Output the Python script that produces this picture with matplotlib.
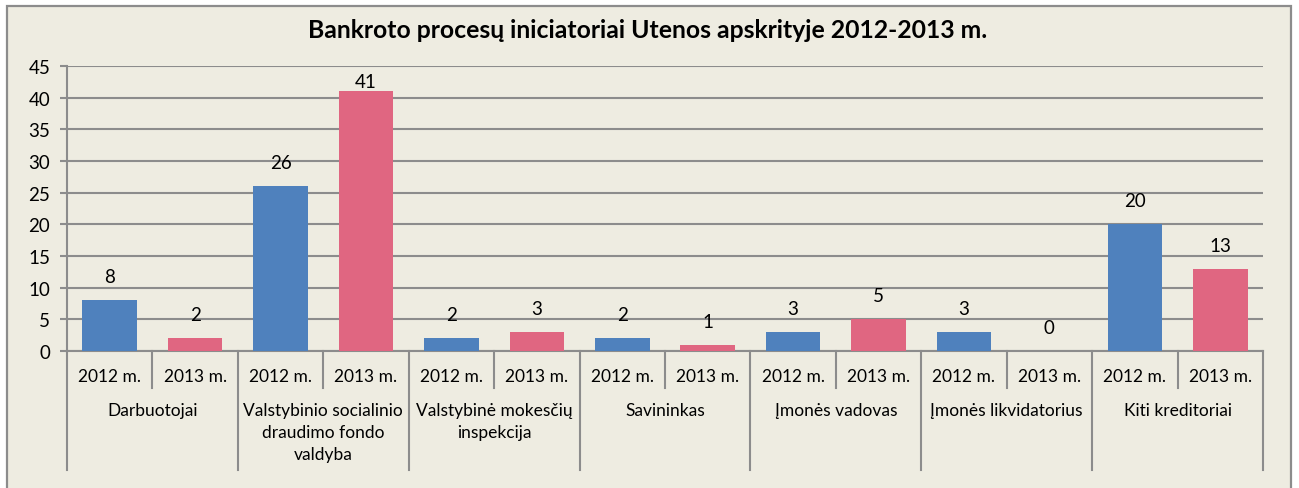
import matplotlib.pyplot as plt
from matplotlib.patches import Rectangle

# ================== DATA ==================
groups = [
    "Darbuotojai",
    "Valstybinio socialinio\ndraudimo fondo\nvaldyba",
    "Valstybinė mokesčių\ninspekcija",
    "Savininkas",
    "Įmonės vadovas",
    "Įmonės likvidatorius",
    "Kiti kreditoriai",
]
years = ["2012 m.", "2013 m."]
vals_2012 = [8, 26, 2, 2, 3, 3, 20]
vals_2013 = [2, 41, 3, 1, 5, 0, 13]

TITLE = "Bankroto procesų iniciatoriai Utenos apskrityje 2012-2013 m."

BG = "#EEECE1"
BLUE = "#4F81BD"
PINK = "#E06681"
GRID = "#8C8C8C"

plt.rcParams['font.family'] = ['Lato', 'DejaVu Sans']

W, H = 1299, 489
fig = plt.figure(figsize=(W / 100, H / 100), dpi=100)
fig.patch.set_facecolor("white")

# chart frame
fig.patches.append(Rectangle((7 / W, -0.02), (1291 - 7) / W, 1 - 7 / H + 0.02,
                             transform=fig.transFigure, facecolor=BG,
                             edgecolor=GRID, linewidth=1.6, zorder=-5))

left, right, top, bottom = 67, 1263, 67, 352
ax = fig.add_axes([left / W, (H - bottom) / H, (right - left) / W, (bottom - top) / H])
ax.set_facecolor("none")

# ================== BARS ==================
xs, vs, cs = [], [], []
for i in range(len(groups)):
    xs += [2 * i, 2 * i + 1]
    vs += [vals_2012[i], vals_2013[i]]
    cs += [BLUE, PINK]

ax.bar(xs, vs, width=0.64, color=cs, zorder=3)
for x, v in zip(xs, vs):
    ax.text(x, min(v + 3.7, 42.5), str(v), ha="center", va="center",
            fontsize=13.5, color="black", zorder=4)

ax.set_xlim(-0.5, len(xs) - 0.5)
ax.set_ylim(0, 45)
ax.set_yticks(range(0, 46, 5))
ax.yaxis.grid(True, color=GRID, linewidth=1.5, zorder=1)
ax.set_axisbelow(True)
ax.tick_params(axis="y", length=5, width=1.5, color=GRID, labelsize=13.5, pad=7)
ax.set_xticks([])
for s in ["top", "right"]:
    ax.spines[s].set_visible(False)
for s in ["left", "bottom"]:
    ax.spines[s].set_color(GRID)
    ax.spines[s].set_linewidth(1.5)

# ================== MULTI-LEVEL AXIS ==================
ph = bottom - top
tr = ax.get_xaxis_transform()
for x in xs:
    ax.text(x, -25 / ph, years[x % 2], transform=tr, ha="center", va="center",
            fontsize=12.5, clip_on=False)
for i, g in enumerate(groups):
    ax.text(2 * i + 0.5, -51 / ph, g, transform=tr, ha="center", va="top",
            fontsize=12.5, linespacing=1.45, clip_on=False)
for b in range(len(xs) + 1):
    edge = b - 0.5
    depth = 119 if b % 2 == 0 else 37
    ax.plot([edge, edge], [0, -depth / ph], transform=tr, color=GRID,
            linewidth=1.5, clip_on=False)

fig.text(648 / W, 1 - 31 / H, TITLE, ha="center", va="center",
         fontsize=17.8, fontweight="bold")

fig.savefig("out.png", dpi=100, facecolor=fig.get_facecolor())
